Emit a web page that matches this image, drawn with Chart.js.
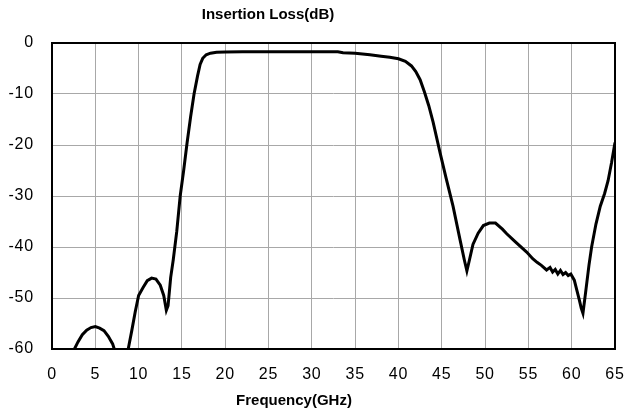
<!DOCTYPE html>
<html>
<head>
<meta charset="utf-8">
<script src="https://cdn.jsdelivr.net/npm/chart.js@4/dist/chart.umd.min.js"></script>
<style>
  html, body { margin: 0; padding: 0; background: #fff; }
  canvas { display: block; }
</style>
</head>
<body>
<canvas id="c" width="629" height="414"></canvas>
<script>
const chartTitle = "Insertion Loss(dB)";
const xAxisTitle = "Frequency(GHz)";

const freqGHz = [2.5, 3.0, 3.5, 4.0, 4.5, 5.0, 5.5, 6.0, 6.5, 7.0, 7.3, 7.8, 8.3, 8.8, 9.2, 9.6, 10.0, 10.5, 11.0, 11.5, 12.0, 12.5, 12.9, 13.2, 13.4, 13.7, 14.0, 14.4, 14.8, 15.2, 15.6, 16.0, 16.4, 16.8, 17.1, 17.4, 17.8, 18.3, 19.0, 20, 22, 25, 28, 30, 33, 33.6, 35, 36.7, 38, 39, 40, 40.8, 41.5, 42.0, 42.5, 43.0, 43.5, 44.0, 44.8, 45.5, 46.3, 47.1, 47.6, 47.9, 48.2, 48.6, 49.2, 49.8, 50.5, 51.2, 52.0, 52.5, 53.5, 54.8, 55.5, 56.0, 56.5, 57.1, 57.5, 57.8, 58.1, 58.4, 58.7, 59.0, 59.3, 59.6, 59.9, 60.3, 60.6, 60.9, 61.1, 61.3, 61.6, 62.0, 62.3, 62.8, 63.3, 63.8, 64.2, 64.6, 65.0];

const lossDB = [-60.3, -58.6, -57.2, -56.3, -55.8, -55.6, -55.9, -56.4, -57.5, -59.0, -60.6, -62.0, -62.3, -60.0, -56.5, -52.8, -49.5, -48.0, -46.6, -46.1, -46.3, -47.5, -49.5, -52.4, -51.5, -46.0, -42.5, -37.0, -30.0, -25.0, -19.5, -14.5, -10.0, -6.5, -4.2, -3.0, -2.3, -2.0, -1.8, -1.75, -1.7, -1.7, -1.7, -1.7, -1.7, -1.9, -2.0, -2.3, -2.6, -2.8, -3.1, -3.6, -4.5, -5.6, -7.2, -9.6, -12.3, -15.5, -21.5, -26.5, -32.0, -38.5, -42.5, -44.7, -42.5, -39.5, -37.3, -35.8, -35.3, -35.3, -36.5, -37.4, -39.0, -41.0, -42.3, -43.0, -43.6, -44.5, -44.0, -44.9, -44.4, -45.3, -44.6, -45.4, -45.0, -45.6, -45.3, -46.5, -48.5, -50.5, -52.0, -53.0, -49.0, -43.5, -40.0, -35.5, -32.0, -29.5, -27.0, -23.5, -19.5];

const xTickStep = 5;
const yTickStep = 10;

const points = freqGHz.map((f, i) => ({ x: f, y: lossDB[i] }));

const FONT = "'Liberation Sans', Arial, Helvetica, sans-serif";

const spacing = {
  id: 'spacing',
  beforeDraw(chart) { chart.ctx.letterSpacing = '0.8px'; }
};

const frameAndTitles = {
  id: 'frameAndTitles',
  afterDatasetsDraw(chart) {
    const { ctx, chartArea: a } = chart;
    ctx.save();
    ctx.strokeStyle = '#000';
    ctx.lineWidth = 2;
    ctx.strokeRect(a.left, a.top, a.right - a.left, a.bottom - a.top);
    ctx.fillStyle = '#000';
    ctx.letterSpacing = '0px';
    ctx.font = 'bold 15px ' + FONT;
    ctx.textAlign = 'center';
    ctx.textBaseline = 'middle';
    ctx.fillText(chartTitle, 268, 15);
    ctx.fillText(xAxisTitle, 294, 401);
    ctx.restore();
  }
};

function noPad(s) {
  s.paddingLeft = 0; s.paddingRight = 0; s.paddingTop = 0; s.paddingBottom = 0;
}

new Chart(document.getElementById('c'), {
  type: 'scatter',
  data: {
    datasets: [{
      data: points,
      showLine: true,
      borderColor: '#000',
      borderWidth: 3,
      pointRadius: 0,
      tension: 0,
      fill: false,
      clip: 0
    }]
  },
  options: {
    responsive: false,
    devicePixelRatio: 1,
    animation: false,
    layout: { padding: { top: 43, right: 14, left: 0, bottom: 0 } },
    plugins: { legend: { display: false }, title: { display: false }, tooltip: { enabled: false } },
    scales: {
      x: {
        type: 'linear',
        min: 0, max: 65,
        afterFit(s) { s.height = 65; noPad(s); },
        ticks: { stepSize: xTickStep, color: '#000', font: { family: FONT, size: 16 }, padding: 16, maxRotation: 0 },
        grid: { color: '#a8a8a8', lineWidth: 1, drawTicks: false },
        border: { display: false }
      },
      y: {
        type: 'linear',
        min: -60, max: 0,
        afterFit(s) { s.width = 52; noPad(s); },
        ticks: { stepSize: yTickStep, color: '#000', font: { family: FONT, size: 16 }, padding: 18 },
        grid: { color: '#a8a8a8', lineWidth: 1, drawTicks: false },
        border: { display: false }
      }
    }
  },
  plugins: [spacing, frameAndTitles]
});
</script>
</body>
</html>
